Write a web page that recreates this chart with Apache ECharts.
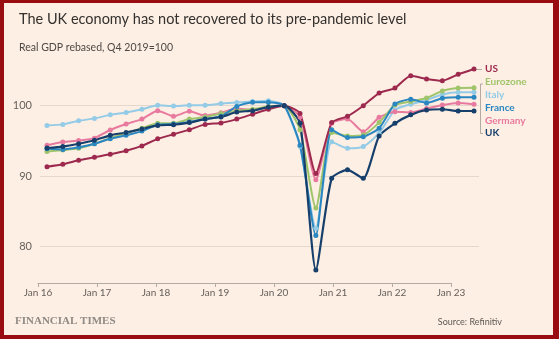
<!DOCTYPE html>
<html>
<head>
<meta charset="utf-8">
<script src="https://cdn.jsdelivr.net/npm/echarts@6/dist/echarts.min.js"></script>
<style>
html,body{margin:0;padding:0;background:#fdefe4;}
#chart{position:absolute;left:0;top:0;width:559px;height:339px;}
#frame{position:absolute;left:0;top:0;width:559px;height:339px;box-sizing:border-box;border-style:solid;border-color:#990d10;border-width:3px 6px 4px 4px;pointer-events:none;}
</style>
</head>
<body>
<div id="chart"></div>
<div id="frame"></div>
<script>
const quarters = ['2016 Q1','2016 Q2','2016 Q3','2016 Q4','2017 Q1','2017 Q2','2017 Q3','2017 Q4',
  '2018 Q1','2018 Q2','2018 Q3','2018 Q4','2019 Q1','2019 Q2','2019 Q3','2019 Q4',
  '2020 Q1','2020 Q2','2020 Q3','2020 Q4','2021 Q1','2021 Q2','2021 Q3','2021 Q4',
  '2022 Q1','2022 Q2','2022 Q3','2022 Q4'];
const xTickLabels = ['Jan 16','Jan 17','Jan 18','Jan 19','Jan 20','Jan 21','Jan 22','Jan 23'];
const yTicks = [80, 90, 100];

const us       = [91.35,91.7,92.25,92.7, 93.1,93.6,94.3,95.3, 95.95,96.6,97.35,97.55, 98.1,98.8,99.5,100, 98.9,90.4,97.6,98.5, 100.0,101.8,102.5,104.25, 103.8,103.55,104.45,105.2];
const uk       = [94.0,94.2,94.6,95.1, 95.8,96.2,96.7,97.2, 97.3,97.6,98.1,98.4, 99.1,99.3,99.8,100, 97.5,76.7,89.7,90.9, 89.7,95.7,97.5,98.7, 99.4,99.5,99.25,99.25];
const france   = [93.9,93.8,94.1,94.6, 95.3,95.8,96.4,97.3, 97.4,97.7,98.1,98.5, 99.9,100.5,100.5,100, 94.4,81.6,96.6,95.5, 95.6,96.8,100.25,100.9, 100.4,101.05,101.2,101.2];
const eurozone = [93.5,93.7,93.95,94.6, 95.4,96.1,96.8,97.5, 97.5,98.1,98.4,98.9, 99.3,99.5,99.9,100, 96.6,85.5,96.2,95.7, 95.85,97.6,100.1,100.6, 101.1,102.1,102.5,102.55];
const italy    = [97.2,97.35,97.85,98.2, 98.7,99.05,99.5,100.05, 99.95,100.05,100.05,100.3, 100.45,100.6,100.7,100, 94.2,82.6,94.9,93.95, 94.2,96.1,99.4,100.2, 100.8,101.6,101.9,101.9];
const germany  = [94.4,94.85,95.05,95.4, 96.55,97.4,98.1,99.3, 98.5,99.2,98.6,99.0, 99.6,99.4,99.8,100, 98.4,89.5,97.5,98.1, 96.3,98.35,99.15,99.05, 99.6,100.1,100.4,100.2];

const COLORS = {US:'#9d2a4e', Eurozone:'#9fc46a', Italy:'#94cbe6', France:'#2a86c0', Germany:'#e97a9f', UK:'#173f6b'};

const chart = echarts.init(document.getElementById('chart'), null, {renderer:'canvas'});
const TOP = 105.7, BOTTOM = 92.3;

function mk(name, data, width){
  return {
    name, type:'line', data, xAxisIndex:2, yAxisIndex:2, clip:false,
    smooth:0.2, symbol:'circle', symbolSize:5, showSymbol:true,
    lineStyle:{color:COLORS[name], width:width||2},
    itemStyle:{color:COLORS[name]},
    emphasis:{disabled:true}
  };
}

const txt = (t, x, y, color, extra) => Object.assign({type:'text', left:x, top:y, style:Object.assign({text:t, fill:color, font:'bold 10px Lato'}, extra||{})});

chart.setOption({
  backgroundColor:'#fdefe4',
  animation:false,
  title:[
    {text:'The UK economy has not recovered to its pre-pandemic level', left:14, top:7,
     textStyle:{fontFamily:'Lato', fontSize:14.5, fontWeight:'normal', color:'#33302e'}},
    {text:'Real GDP rebased, Q4 2019=100', left:14, top:37,
     textStyle:{fontFamily:'Lato', fontSize:10.5, fontWeight:'normal', color:'#4d4845'}}
  ],
  grid:[
    {left:38, right:108, top:TOP, bottom:56},
    {left:40, right:80, top:TOP, bottom:BOTTOM},
    {left:47, right:85, top:TOP, bottom:BOTTOM}
  ],
  xAxis:[
    {gridIndex:0, type:'category', data:xTickLabels, boundaryGap:false,
     axisLine:{lineStyle:{color:'#b3aaa2', width:1}},
     axisTick:{show:true, length:4, lineStyle:{color:'#b3aaa2'}},
     axisLabel:{color:'#66605c', fontFamily:'Lato', fontSize:10, margin:5}},
    {gridIndex:1, type:'category', data:quarters, show:false},
    {gridIndex:2, type:'category', data:quarters, boundaryGap:false, show:false}
  ],
  yAxis:[
    {gridIndex:0, type:'value', min:80, max:100, show:false},
    {gridIndex:1, type:'value', min:yTicks[0], max:yTicks[yTicks.length-1], interval:10,
     axisLine:{show:false}, axisTick:{show:false},
     splitLine:{lineStyle:{color:'#e3d8ce', width:1}},
     axisLabel:{color:'#66605c', fontFamily:'Lato', fontSize:11, margin:8}},
    {gridIndex:2, type:'value', min:80, max:100, show:false}
  ],
  series:[
    mk('Italy', italy), mk('Germany', germany), mk('Eurozone', eurozone),
    mk('France', france), mk('US', us), mk('UK', uk, 2.2)
  ],
  graphic:[
    {type:'line', shape:{x1:476, y1:69.5, x2:482, y2:69.5}, style:{stroke:'#b3aaa2', lineWidth:1}},
    {type:'polyline', shape:{points:[[483,84],[480.5,84],[480.5,133.5],[483,133.5]]}, style:{stroke:'#b3aaa2', lineWidth:1, fill:null}},
    txt('US', 485, 64, COLORS.US),
    txt('Eurozone', 485, 77, COLORS.Eurozone),
    txt('Italy', 485, 90, COLORS.Italy),
    txt('France', 485, 103, COLORS.France),
    txt('Germany', 485, 116, COLORS.Germany),
    txt('UK', 485, 128, COLORS.UK),
    {type:'text', left:15, top:316, style:{text:'FINANCIAL TIMES', fill:'#8f8a85', font:'bold 11px "Liberation Serif"'}},
    {type:'text', right:57, top:318, style:{text:'Source: Refinitiv', fill:'#5d5854', font:'9px Lato'}}
  ]
});
</script>
</body>
</html>
